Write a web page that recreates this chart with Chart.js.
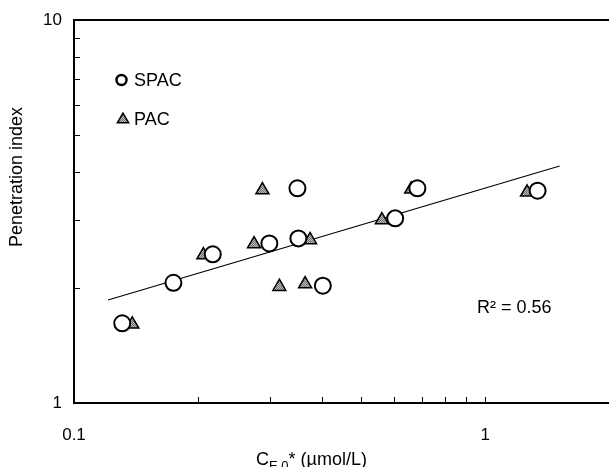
<!DOCTYPE html>
<html>
<head>
<meta charset="utf-8">
<script src="https://cdn.jsdelivr.net/npm/chart.js@4.4.1/dist/chart.umd.min.js"></script>
<style>
  html, body { margin: 0; padding: 0; background: #fff; overflow: hidden; }
  canvas { display: block; }
</style>
</head>
<body>
<canvas id="chart" width="609" height="467"></canvas>
<script>
// SPAC (open circles)
const spacX = [0.131, 0.1745, 0.2175, 0.2986, 0.3513, 0.3494, 0.4028, 0.604, 0.684, 1.341];
const spacY = [1.615, 2.06, 2.445, 2.61, 2.69, 3.636, 2.024, 3.035, 3.636, 3.584];
// PAC (grey triangles)
const pacX = [0.1386, 0.2064, 0.2741, 0.2872, 0.375, 0.3158, 0.3648, 0.5607, 0.6607, 1.264];
const pacY = [1.605, 2.434, 2.60, 3.597, 2.665, 2.012, 2.045, 3.004, 3.614, 3.55];
// fitted line end points
const fitX = [0.121, 1.517];
const fitY = [1.858, 4.157];

const FONT = '"Liberation Sans", Arial, sans-serif';

function pts(xs, ys) {
  return xs.map((x, i) => ({ x: x, y: ys[i] }));
}

// grey stipple fill for the triangles
const pc = document.createElement('canvas');
pc.width = 2; pc.height = 2;
const pctx = pc.getContext('2d');
pctx.fillStyle = '#bdbdbd'; pctx.fillRect(0, 0, 2, 2);
pctx.fillStyle = '#6e6e6e'; pctx.fillRect(0, 0, 1, 1); pctx.fillRect(1, 1, 1, 1);
const grey = pctx.createPattern(pc, 'repeat');

function isDecade(v) {
  const l = Math.log10(v);
  return Math.abs(l - Math.round(l)) < 1e-6;
}

// 2..9 times a power of ten
function isMinor(v) {
  const m = v / Math.pow(10, Math.floor(Math.log10(v) + 1e-9));
  return Math.abs(m - Math.round(m)) < 1e-6 && Math.round(m) > 1;
}

function triangle(ctx, x, y, r) {
  ctx.beginPath();
  ctx.moveTo(x, y - r);
  ctx.lineTo(x + r * Math.sin(Math.PI / 3), y + r * 0.5);
  ctx.lineTo(x - r * Math.sin(Math.PI / 3), y + r * 0.5);
  ctx.closePath();
}

const extras = {
  id: 'extras',
  afterDraw(chart) {
    const ctx = chart.ctx;
    const a = chart.chartArea;
    const sx = chart.scales.x, sy = chart.scales.y;
    ctx.save();
    ctx.strokeStyle = '#000';

    // top frame line
    ctx.lineWidth = 2;
    ctx.beginPath();
    ctx.moveTo(a.left - 1, a.top);
    ctx.lineTo(a.right, a.top);
    ctx.stroke();

    // inside ticks
    ctx.lineWidth = 1;
    sx.ticks.forEach(t => {
      if (t.value >= sx.max * 0.999) return;
      if (!isMinor(t.value) && !(isDecade(t.value) && t.value > sx.min * 1.001)) return;
      const px = Math.round(sx.getPixelForValue(t.value)) + 0.5;
      ctx.beginPath();
      ctx.moveTo(px, a.bottom);
      ctx.lineTo(px, a.bottom - 6);
      ctx.stroke();
    });
    sy.ticks.forEach(t => {
      if (!isMinor(t.value)) return;
      const py = Math.round(sy.getPixelForValue(t.value)) + 0.5;
      ctx.beginPath();
      ctx.moveTo(a.left, py);
      ctx.lineTo(a.left + 6, py);
      ctx.stroke();
    });

    // legend
    ctx.lineWidth = 2.5;
    ctx.fillStyle = '#fff';
    ctx.beginPath();
    ctx.arc(121.5, 80, 5, 0, Math.PI * 2);
    ctx.fill(); ctx.stroke();
    ctx.lineWidth = 1.5;
    ctx.fillStyle = grey;
    triangle(ctx, 123, 119.5, 6.5);
    ctx.fill(); ctx.stroke();

    ctx.fillStyle = '#000';
    ctx.font = '18px ' + FONT;
    ctx.textAlign = 'left';
    ctx.textBaseline = 'middle';
    ctx.fillText('SPAC', 134, 81);
    ctx.fillText('PAC', 134, 120);

    // R squared
    ctx.fillText('R\u00B2 = 0.56', 477, 308);

    // y title
    ctx.save();
    ctx.translate(17, 177);
    ctx.rotate(-Math.PI / 2);
    ctx.textAlign = 'center';
    ctx.fillText('Penetration index', 0, 0);
    ctx.restore();

    // x title with subscript
    ctx.textBaseline = 'alphabetic';
    let x = 256, base = 465;
    ctx.font = '18px ' + FONT;
    ctx.fillText('C', x, base);
    x += ctx.measureText('C').width;
    ctx.font = '13px ' + FONT;
    ctx.fillText('E,0', x, base + 5);
    x += ctx.measureText('E,0').width;
    ctx.font = '18px ' + FONT;
    ctx.fillText('* (\u00B5mol/L)', x, base);

    ctx.restore();
  }
};

new Chart(document.getElementById('chart'), {
  type: 'scatter',
  data: {
    datasets: [
      {
        label: 'SPAC',
        data: pts(spacX, spacY),
        pointStyle: 'circle',
        pointRadius: 8,
        pointBorderWidth: 2,
        pointBackgroundColor: '#fff',
        pointBorderColor: '#000'
      },
      {
        label: 'PAC',
        data: pts(pacX, pacY),
        pointStyle: 'triangle',
        pointRadius: 7.5,
        pointBorderWidth: 1.5,
        pointBackgroundColor: grey,
        pointBorderColor: '#000'
      },
      {
        label: 'fit',
        type: 'line',
        data: pts(fitX, fitY),
        borderColor: '#000',
        borderWidth: 1.2,
        pointRadius: 0,
        fill: false
      }
    ]
  },
  options: {
    responsive: false,
    animation: false,
    // axis runs off the right edge of the picture
    layout: { autoPadding: false, padding: { top: 20, right: -4, left: 0, bottom: 0 } },
    plugins: { legend: { display: false }, tooltip: { enabled: false } },
    scales: {
      x: {
        type: 'logarithmic',
        min: 0.1,
        max: 2,
        grid: { display: false },
        border: { display: true, color: '#000', width: 2 },
        ticks: {
          autoSkip: false,
          maxRotation: 0,
          padding: 14,
          color: '#000',
          font: { family: FONT, size: 17 },
          callback: v => isDecade(v) ? String(Math.round(v * 10) / 10) : ''
        },
        afterFit: s => { s.height = 64; s.paddingLeft = 0; s.paddingRight = 0; }
      },
      y: {
        type: 'logarithmic',
        min: 1,
        max: 10,
        grid: { display: false },
        border: { display: true, color: '#000', width: 2 },
        ticks: {
          autoSkip: false,
          padding: 4,
          color: '#000',
          font: { family: FONT, size: 17 },
          callback: v => isDecade(v) ? String(Math.round(v)) : ''
        },
        afterFit: s => { s.width = 74; s.paddingTop = 0; s.paddingBottom = 0; }
      }
    }
  },
  plugins: [extras]
});
</script>
</body>
</html>
